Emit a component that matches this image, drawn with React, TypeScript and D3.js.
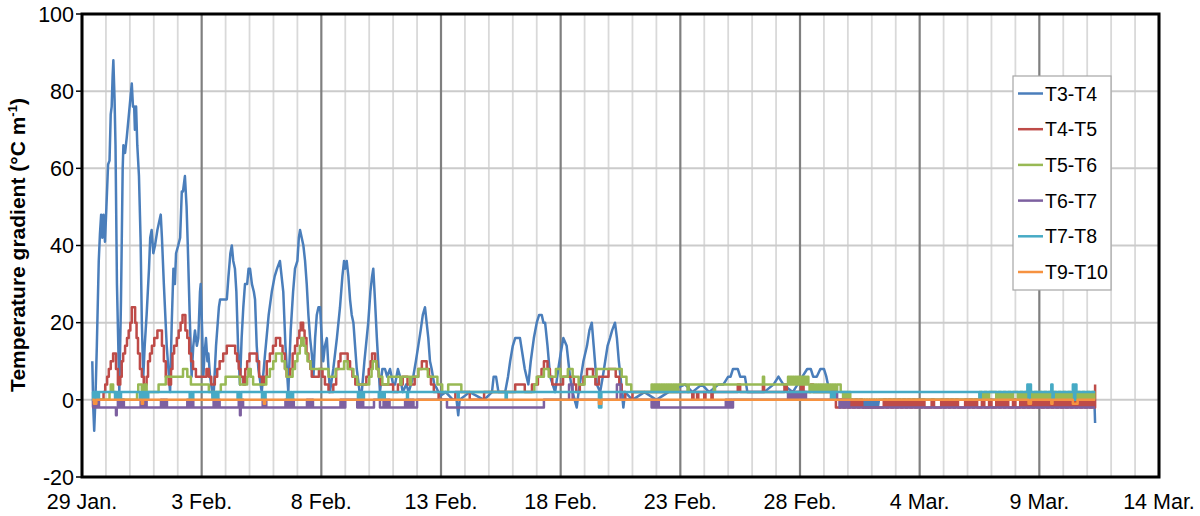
import * as d3 from "d3";
import { useEffect } from "react";

type Pt = [number, number];

// dense stretches where the logger flips between two levels every few hours
function band(start: number, step: number, values: number[]): Pt[] {
  return values.map((v, i) => [+(start + i * step).toFixed(3), v] as Pt);
}

const dateLabels = ["29 Jan.", "3 Feb.", "8 Feb.", "13 Feb.", "18 Feb.", "23 Feb.", "28 Feb.", "4 Mar.", "9 Mar.", "14 Mar."];
const yTicks = [-20, 0, 20, 40, 60, 80, 100];
const seriesNames = ["T3-T4", "T4-T5", "T5-T6", "T6-T7", "T7-T8", "T9-T10"];
const seriesColors = ["#4a7ebb", "#be4b48", "#98b954", "#7d60a0", "#46aac5", "#f69240"];

// days since 29 Jan, gradient in °C/m
const t3t4: Pt[] = [
  [0.43, 10], [0.47, -2], [0.51, -8], [0.56, 0], [0.62, 14], [0.7, 36], [0.75, 43], [0.8, 48], [0.85, 42], [0.9, 48],
  [0.96, 41], [1.02, 50], [1.09, 61], [1.15, 62], [1.2, 74], [1.24, 76], [1.28, 84], [1.31, 88], [1.36, 78], [1.4, 66],
  [1.46, 30], [1.56, 2], [1.63, 26], [1.7, 60], [1.73, 66], [1.8, 64], [1.87, 68], [1.96, 74], [2.02, 78], [2.08, 82],
  [2.13, 76], [2.18, 76], [2.21, 70], [2.26, 76], [2.31, 66], [2.38, 58], [2.45, 41], [2.5, 20], [2.56, 6], [2.62, 14],
  [2.7, 22], [2.8, 34], [2.85, 42], [2.91, 44], [2.98, 38], [3.05, 40], [3.15, 44], [3.22, 46], [3.29, 48], [3.34, 42],
  [3.42, 30], [3.54, 14], [3.68, 2], [3.75, 20], [3.82, 34], [3.88, 30], [3.93, 38], [4.02, 40], [4.1, 42], [4.17, 54],
  [4.22, 54], [4.3, 58], [4.37, 50], [4.42, 40], [4.5, 22], [4.58, 6], [4.65, 14], [4.72, 18], [4.8, 14], [4.86, 16],
  [4.93, 28], [4.96, 30], [5.02, 18], [5.07, 6], [5.12, 12], [5.18, 16], [5.24, 10], [5.28, 12], [5.35, 6], [5.49, 0],
  [5.6, 14], [5.72, 24], [5.77, 26], [5.9, 26], [6.05, 26], [6.12, 32], [6.2, 38], [6.26, 40], [6.32, 36], [6.39, 34],
  [6.45, 28], [6.52, 14], [6.6, 4], [6.67, 16], [6.74, 24], [6.81, 30], [6.9, 30], [6.96, 34], [7.02, 34], [7.1, 30],
  [7.18, 28], [7.23, 26], [7.3, 14], [7.37, 8], [7.51, 2], [7.65, 12], [7.8, 22], [7.93, 28], [8.05, 32], [8.15, 34],
  [8.27, 36], [8.34, 32], [8.41, 28], [8.5, 14], [8.62, 2], [8.72, 18], [8.82, 28], [8.9, 34], [9.0, 36], [9.06, 42],
  [9.11, 44], [9.18, 42], [9.25, 40], [9.32, 36], [9.39, 30], [9.46, 22], [9.53, 16], [9.6, 12], [9.67, 6], [9.74, 16],
  [9.81, 22], [9.88, 24], [9.95, 24], [10.0, 18], [10.08, 10], [10.15, 14], [10.23, 16], [10.3, 8], [10.36, 2], [10.5, 8],
  [10.65, 16], [10.78, 24], [10.88, 32], [10.95, 36], [10.99, 34], [11.06, 36], [11.13, 32], [11.2, 26], [11.27, 22], [11.34, 20],
  [11.41, 14], [11.48, 8], [11.6, 2], [11.69, 2], [11.8, 10], [11.96, 20], [12.05, 28], [12.12, 32], [12.17, 34], [12.24, 26],
  [12.32, 16], [12.45, 2], [12.55, 8], [12.66, 8], [12.75, 6], [12.87, 8], [13.0, 4], [13.08, 4], [13.2, 8], [13.29, 6],
  [13.4, 2], [13.55, 4], [13.65, 2], [13.84, 6], [13.95, 10], [14.05, 14], [14.15, 18], [14.24, 22], [14.33, 24], [14.4, 20],
  [14.47, 16], [14.54, 10], [14.61, 8], [14.72, 4], [14.82, 3], [14.96, 1], [15.2, 2], [15.5, 0], [15.65, 0], [15.72, -4],
  [15.78, 0], [16.2, 2], [16.8, 0], [17.13, 2], [17.2, 6], [17.3, 6], [17.4, 2], [17.68, 2], [17.8, 6], [17.89, 10],
  [18.0, 14], [18.1, 16], [18.3, 16], [18.4, 12], [18.5, 8], [18.65, 4], [18.75, 10], [18.88, 16], [19.0, 20], [19.1, 22],
  [19.21, 22], [19.28, 20], [19.35, 20], [19.45, 14], [19.56, 6], [19.77, 2], [19.9, 8], [20.0, 12], [20.11, 16], [20.25, 14],
  [20.32, 10], [20.39, 6], [20.5, 2], [20.67, -2], [20.75, 2], [20.85, 6], [20.95, 10], [21.1, 14], [21.2, 18], [21.3, 20],
  [21.38, 14], [21.51, 4], [21.65, 2], [21.76, 6], [21.86, 10], [21.96, 14], [22.06, 16], [22.15, 18], [22.27, 20], [22.35, 16],
  [22.43, 10], [22.5, 6], [22.62, -2], [22.69, 2], [23.0, 0], [23.5, 2], [24.0, 0], [24.5, 2], [25.2, 4], [25.5, 2],
  [25.9, 4], [26.2, 2], [26.6, 4], [26.8, 4], [27.0, 6], [27.1, 6], [27.2, 8], [27.4, 8], [27.5, 6], [27.7, 6],
  [27.8, 2], [28.5, 2], [28.9, 4], [29.1, 6], [29.3, 4], [29.7, 2], [30.1, 6], [30.3, 8], [30.45, 8], [30.55, 6],
  [30.7, 6], [30.85, 8], [31.0, 8], [31.1, 6], [31.2, 3], [31.35, 2], [31.5, 0], [32.6, 0],
  ...band(32.65, 0.05, [-2, 0, -2, 0, -2, 0, -2, 0, -2, 0, -2, 0, -2, 0]),
  [42.3, 0], [42.33, -6],
];

const t4t5: Pt[] = [
  [0.43, 0], [0.9, 2], [0.97, 4], [1.05, 6], [1.12, 8], [1.2, 10], [1.3, 12], [1.42, 8], [1.5, 4], [1.6, 6],
  [1.66, 10], [1.72, 12], [1.8, 14], [1.88, 16], [1.95, 18], [2.02, 20], [2.08, 24], [2.22, 20], [2.28, 16], [2.34, 12],
  [2.42, 8], [2.5, 6], [2.58, 4], [2.7, 6], [2.76, 10], [2.84, 12], [2.92, 14], [3.02, 16], [3.15, 18], [3.34, 14],
  [3.42, 10], [3.5, 6], [3.62, 4], [3.72, 8], [3.78, 12], [3.85, 14], [3.96, 16], [4.04, 18], [4.12, 20], [4.2, 22],
  [4.32, 18], [4.4, 16], [4.48, 12], [4.56, 10], [4.64, 8], [4.76, 6], [5.2, 8], [5.3, 6], [5.4, 4], [5.55, 6],
  [5.65, 8], [5.75, 10], [5.9, 12], [6.05, 14], [6.4, 12], [6.48, 10], [6.55, 8], [6.62, 6], [6.74, 4], [6.82, 8],
  [6.9, 10], [7.0, 12], [7.3, 10], [7.4, 6], [7.52, 4], [7.6, 6], [7.72, 10], [7.85, 12], [7.98, 14], [8.1, 16],
  [8.28, 14], [8.38, 12], [8.48, 8], [8.55, 6], [8.7, 8], [8.8, 12], [8.9, 14], [9.0, 16], [9.08, 18], [9.14, 20],
  [9.24, 18], [9.3, 16], [9.38, 12], [9.46, 10], [9.54, 8], [9.6, 6], [9.9, 8], [10.05, 6], [10.15, 4], [10.3, 2],
  [10.5, 4], [10.62, 8], [10.72, 10], [10.8, 12], [11.1, 10], [11.2, 8], [11.3, 6], [11.42, 4], [11.88, 6], [11.98, 8],
  [12.06, 10], [12.12, 12], [12.25, 10], [12.32, 8], [12.4, 6], [12.48, 4], [13.0, 2], [13.2, 4], [13.4, 6], [13.6, 4],
  [13.9, 6], [14.05, 8], [14.2, 10], [14.4, 8], [14.5, 6], [14.58, 4], [14.7, 2], [14.9, 0], [15.6, 2], [16.2, 0],
  [16.8, 2], [18.1, 4], [18.5, 2], [18.8, 4], [19.05, 6], [19.2, 8], [19.3, 10], [19.45, 8], [19.55, 6], [19.65, 4],
  [20.1, 6], [20.55, 4], [20.65, 2], [20.8, 4], [20.95, 6], [21.1, 8], [21.35, 6], [21.45, 4], [21.6, 6], [22.0, 8],
  [22.3, 6], [22.45, 4], [22.55, 2], [22.7, 0], [23.0, 2], [25.5, 0], [25.55, 2], [25.7, 0], [25.75, 2], [26.0, 0],
  [26.05, 2], [26.3, 0], [26.35, 2], [27.4, 4], [27.5, 2], [28.45, 4], [28.5, 2], [29.35, 4], [29.45, 2], [30.05, 4],
  [30.15, 2], [30.45, 4], [30.55, 2], [31.5, -2],
  ...band(31.6, 0.1, [
    -2, 0, -2, 0, -2, 0, -2, 0, -2, 0,
    -2, -2, -2, -2, -2, -2, -2, -2, -2, 0,
    -2, 0, -2, 0, -2, 0, -2, 0, -2, 0,
    -2, 0, -2, 0, -2, 0, -2, -2, -2, 0,
    -2, -2, -2, 0, -2, 0, -2, 0, -2, 0,
    -2, -2, -2, 0, -2, 0, -2, 0, -2, -2,
    0, -2, -2, 0, -2, -2, 0, -2, 0, -2,
    0, -2, -2, 0, -2, -2, 0, -2, 0, -2,
    0, -2, 0, -2, 0, -2, 0, -2, 0, -2,
    0, -2, 0, -2, 0, -2, 0, -2, 0, -2,
    0, -2, 0, -2, 0, -2, 0, -2,
  ]),
  [42.33, 4],
];

const t5t6: Pt[] = [
  [0.43, 0], [1.15, 2], [1.2, 4], [1.3, 2], [1.4, 0], [2.3, 2], [2.35, 4], [2.5, 2], [2.6, 4], [2.7, 2],
  [3.2, 4], [3.5, 6], [4.22, 8], [4.4, 6], [4.55, 4], [5.3, 2], [5.8, 4], [6.0, 6], [6.6, 4], [6.9, 6],
  [6.95, 8], [7.05, 6], [7.15, 4], [7.7, 6], [7.85, 8], [7.99, 10], [8.1, 12], [8.35, 10], [8.48, 8], [8.55, 6],
  [8.8, 8], [8.9, 10], [9.0, 12], [9.1, 14], [9.16, 16], [9.26, 14], [9.34, 12], [9.42, 10], [9.55, 8], [10.3, 6],
  [10.6, 8], [10.95, 10], [11.1, 8], [11.34, 6], [11.5, 4], [12.0, 6], [12.1, 8], [12.15, 10], [12.3, 8], [12.4, 6],
  [12.55, 4], [12.8, 6], [13.3, 4], [13.35, 6], [13.7, 4], [13.75, 6], [14.05, 8], [14.45, 6], [14.85, 4], [15.05, 2],
  [15.3, 4], [15.85, 2], [18.9, 4], [19.0, 6], [19.3, 8], [19.5, 6], [19.8, 8], [20.0, 6], [20.3, 8], [20.5, 6],
  [20.75, 4], [21.0, 6], [21.5, 8], [22.55, 6], [22.75, 4], [22.95, 2],
  ...band(23.8, 0.05, [4, 2, 4, 2, 4, 2, 4, 2, 4, 2, 4, 2, 4, 2, 4, 2, 4, 2, 4, 2, 4, 2]),
  [24.9, 4], [25.3, 2], [25.35, 4], [26.4, 2], [26.45, 4], [28.45, 6], [28.5, 4],
  ...band(29.5, 0.05, [6, 4, 6, 4, 6, 4, 6, 4, 6, 4, 6, 4, 6, 4, 6, 4, 6, 4]),
  ...band(30.4, 0.05, [2, 4, 2, 4, 2, 4, 2, 4, 2, 4, 2, 4, 2, 4, 2, 4, 2, 4, 2, 4, 2, 4, 2, 4]),
  [31.7, 2],
  ...band(31.8, 0.05, [0, 2, 0, 2, 0, 2]),
  [32.1, 0],
  ...band(37.5, 0.1, [
    2, 0, 2, 0, 2, 2, 2, 0, 2, 0,
    2, 0, 2, 0, 2, 2, 0, 2, 0, 2,
    0, 2, 0, 2, 0, 2, 0, 2, 0, 2,
    0, 2, 0, 2, 0, 2, 0, 2, 0, 2,
    0, 2, 0, 2, 0, 2, 0, 2, 0,
  ]),
  [42.33, 0],
];

const t6t7: Pt[] = [
  [0.43, -2],
  ...band(0.46, 0.05, [0, -2, 0, -2, 0, -2]),
  [1.42, -4], [1.45, -2],
  ...band(1.5, 0.05, [0, -2, 0, -2, 0, -2]),
  ...band(2.45, 0.05, [0, -2, 0, -2, 0, -2]),
  ...band(3.3, 0.05, [0, -2, 0, -2, 0, -2]),
  ...band(4.4, 0.05, [0, -2, 0, -2, 0, -2]),
  ...band(5.5, 0.05, [0, -2, 0, -2, 0, -2]),
  [6.55, 0], [6.6, -4], [6.63, -2], [6.68, 0], [6.73, -2],
  ...band(7.55, 0.05, [0, -2, 0, -2]),
  ...band(8.5, 0.05, [0, -2, 0, -2, 0, -2, 0, -2]),
  ...band(9.4, 0.05, [0, -2, 0, -2, 0, -2]),
  ...band(10.8, 0.05, [0, -2, 0, -2]),
  [11.0, 0], [11.5, -2],
  ...band(11.6, 0.05, [0, -2, 0, -2]),
  [12.2, 0], [12.45, -2],
  ...band(12.6, 0.05, [0, -2, 0, -2, 0, -2]),
  ...band(13.5, 0.05, [0, -2, 0, -2, 0, -2, 0, -2]),
  [14.0, 0], [15.25, -2], [19.3, 0], [20.35, 4], [20.5, 0], [22.35, 4], [22.5, 0],
  ...band(23.8, 0.05, [-2, 0, -2, 0, -2, 0, -2]),
  ...band(26.9, 0.05, [0, -2, 0, -2, 0, -2, 0]),
  ...band(29.5, 0.05, [2, 0, 2, 0, 2, 0, 2, 0, 2, 0, 2, 0, 2, 0, 2, 0]),
  [30.3, 0],
  ...band(31.3, 0.05, [2, 0, 2, 0, 2, 0]),
  ...band(31.65, 0.05, [-2, 0, -2, 0, -2, 0, -2, 0, -2]),
  [42.33, -2],
];

const t7t8: Pt[] = [
  [0.43, 2],
  ...band(0.46, 0.05, [0, 2, 0, 2, 0, 2]),
  ...band(1.38, 0.05, [0, 2, 0, 2, 0, 2]),
  ...band(2.42, 0.05, [0, 2, 0, 2, 0, 2, 0, 2]),
  ...band(4.5, 0.05, [0, 2, 0, 2]),
  ...band(5.45, 0.05, [0, 2, 0, 2, 0, 2]),
  ...band(6.5, 0.05, [0, 2, 0, 2]),
  ...band(7.52, 0.05, [0, 2, 0, 2]),
  ...band(8.57, 0.05, [0, 2, 0, 2, 0, 2]),
  ...band(11.53, 0.05, [0, 2, 0, 2, 0, 2]),
  ...band(12.4, 0.05, [0, 2, 0, 2, 0, 2]),
  [13.58, 0], [13.62, 2], [15.7, 0], [15.74, 2], [17.7, 0], [17.75, 2], [21.6, -2], [21.7, 2],
  [31.3, 0], [31.35, 2], [31.4, 0], [31.45, 2], [37.5, 0], [37.55, 2],
  [39.5, 4], [39.55, 0], [39.6, 4], [39.65, 2], [40.5, 4], [40.55, 0], [40.6, 2],
  [41.4, 4], [41.45, 0], [41.5, 4], [41.55, 2], [42.33, 2],
];

const t9t10: Pt[] = [
  [0.43, 0], [0.5, -1], [0.6, 0], [2.5, -1], [2.55, 0], [7.6, -1], [7.65, 0], [21.6, -1], [21.7, 0],
  [39.55, -1], [39.65, 0], [40.5, -1], [40.55, 0], [41.4, -1], [41.6, 0], [42.33, 0],
];

const seriesData = [t3t4, t4t5, t5t6, t6t7, t7t8, t9t10];

const W = 1200;
const H = 516;
const plot = { left: 82, right: 1159, top: 14, bottom: 477 };
const font = "'Liberation Sans', Arial, sans-serif";

export default function App() {
  useEffect(() => {
    document.body.style.margin = "0";
  }, []);

  const x = d3.scaleLinear().domain([0, 45]).range([plot.left, plot.right]);
  const y = d3.scaleLinear().domain([-20, 100]).range([plot.bottom, plot.top]);

  const lineLinear = d3.line<Pt>().x((d) => x(d[0])).y((d) => y(d[1]));
  const lineStep = d3
    .line<Pt>()
    .x((d) => x(d[0]))
    .y((d) => y(d[1]))
    .curve(d3.curveStepAfter);

  const days = d3.range(0, 46);

  return (
    <svg width={W} height={H} style={{ display: "block", background: "#fff" }} fontFamily={font}>
      {/* minor day gridlines */}
      {days
        .filter((d) => d % 5 !== 0)
        .map((d) => (
          <line key={"m" + d} x1={x(d)} x2={x(d)} y1={plot.top} y2={plot.bottom} stroke="#d9d9d9" strokeWidth={1.8} />
        ))}
      {/* horizontal gridlines */}
      {yTicks.map((t) => (
        <line key={"h" + t} x1={plot.left} x2={plot.right} y1={y(t)} y2={y(t)} stroke="#cbcbcb" strokeWidth={2} />
      ))}
      {/* 5-day gridlines */}
      {days
        .filter((d) => d % 5 === 0)
        .map((d) => (
          <line key={"M" + d} x1={x(d)} x2={x(d)} y1={plot.top} y2={plot.bottom} stroke="#7f7f7f" strokeWidth={2.2} />
        ))}

      {seriesData.map((s, i) => (
        <path
          key={seriesNames[i]}
          d={(i === 0 ? lineLinear(s) : lineStep(s)) ?? ""}
          fill="none"
          stroke={seriesColors[i]}
          strokeWidth={2.5}
          strokeLinejoin="round"
        />
      ))}

      {/* frame */}
      <rect
        x={plot.left}
        y={plot.top}
        width={plot.right - plot.left}
        height={plot.bottom - plot.top}
        fill="none"
        stroke="#000"
        strokeWidth={3}
      />

      {/* y axis */}
      {yTicks.map((t) => (
        <g key={"yt" + t}>
          <line x1={plot.left - 6} x2={plot.left} y1={y(t)} y2={y(t)} stroke="#000" strokeWidth={1.5} />
          <text x={plot.left - 8} y={y(t)} dy="0.36em" textAnchor="end" fontSize={21.5} fill="#000">
            {t}
          </text>
        </g>
      ))}
      <text
        transform={`translate(25,245) rotate(-90)`}
        textAnchor="middle"
        fontSize={21}
        fontWeight="bold"
        fill="#000"
      >
        Temperature gradient (°C m
        <tspan fontSize={13} dy={-8}>
          -1
        </tspan>
        <tspan dy={8}>)</tspan>
      </text>

      {/* x axis */}
      {dateLabels.map((lab, i) => (
        <text key={lab} x={x(i * 5)} y={509} textAnchor="middle" fontSize={21.5} fill="#000">
          {lab}
        </text>
      ))}

      {/* legend */}
      <g>
        <rect x={1013} y={76} width={98} height={214} fill="#fff" stroke="#a6a6a6" strokeWidth={1.2} />
        {seriesNames.map((n, i) => {
          const cy = 93.5 + i * 35.7;
          return (
            <g key={"lg" + n}>
              <line x1={1018} x2={1043} y1={cy} y2={cy} stroke={seriesColors[i]} strokeWidth={2.5} />
              <text x={1045} y={cy} dy="0.36em" fontSize={19.5} fill="#000">
                {n}
              </text>
            </g>
          );
        })}
      </g>
    </svg>
  );
}
